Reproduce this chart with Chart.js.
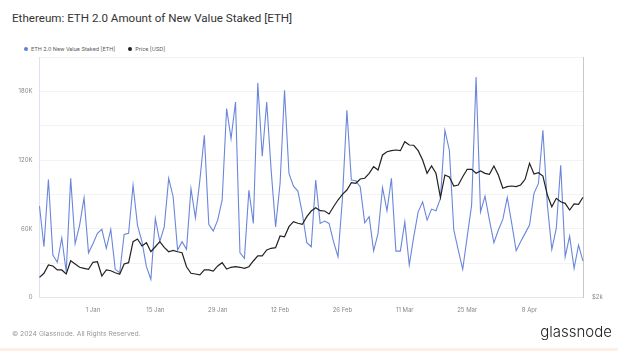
<!DOCTYPE html>
<html>
<head>
<meta charset="utf-8">
<script src="https://cdn.jsdelivr.net/npm/chart.js@4.4.1/dist/chart.umd.min.js"></script>
<style>
  body { margin: 0; width: 618px; height: 351px; background: #fff; font-family: Inter, "Noto Sans", sans-serif; overflow: hidden; position: relative; }
  #chart { position: absolute; left: 0; top: 0; }
  .title { position: absolute; left: 12px; top: 11px; font-family: Roboto, sans-serif; font-size: 11.6px; color: #333; }
  .legend { position: absolute; left: 24px; top: 46px; font-size: 5.4px; color: #555; display: flex; gap: 13px; }
  .legend span { display: inline-flex; align-items: center; }
  .dot { width: 4px; height: 4px; border-radius: 50%; margin-right: 3px; display: inline-block; }
  .footer { position: absolute; left: 12px; top: 329px; font-size: 6.8px; color: #999; }
  .logo { position: absolute; right: 6px; top: 322px; font-size: 15px; font-weight: 300; color: #222; }
  .strip { position: absolute; left: 0; right: 0; bottom: 0; height: 3px; background: #fcefe6; }
</style>
</head>
<body>
<div class="title">Ethereum: ETH 2.0 Amount of New Value Staked [ETH]</div>
<div class="legend">
  <span><i class="dot" style="background:#5f7fd8"></i>ETH 2.0 New Value Staked [ETH]</span>
  <span><i class="dot" style="background:#222"></i>Price [USD]</span>
</div>
<canvas id="chart" width="618" height="351"></canvas>
<div class="footer">© 2024 Glassnode. All Rights Reserved.</div>
<div class="logo">glassnode</div>
<div class="strip"></div>
<script>
// daily points, 20 Dec 2023 .. 20 Apr 2024
const startDay = new Date(2023, 11, 20);
const dayCount = 123;
const monthNames = ['Jan','Feb','Mar','Apr','May','Jun','Jul','Aug','Sep','Oct','Nov','Dec'];
const days = [];
for (let i = 0; i < dayCount; i++) {
  const d = new Date(startDay.getFullYear(), startDay.getMonth(), startDay.getDate() + i);
  days.push(d.getDate() + ' ' + monthNames[d.getMonth()]);
}

const tickLabels = ['1 Jan', '15 Jan', '29 Jan', '12 Feb', '26 Feb', '11 Mar', '25 Mar', '8 Apr'];

// ETH staked per day
const stakedEth = [
  79800, 44300, 103000, 37000, 30700, 52000, 22500, 104000, 47000, 63000, 87000,
  39000, 47000, 56000, 59500, 43000, 59500, 24600, 21600, 55000, 56000,
  98000, 63000, 48700, 26900, 15900, 69000, 48700, 61700, 104000, 88000,
  41400, 48700, 42000, 95000, 69600, 102500, 141700, 64000, 58000, 67600,
  85000, 165000, 138800, 170700, 39000, 34200, 93700, 64700, 187300, 123400,
  170700, 111000, 61700, 99600, 181000, 108300, 97200, 92900, 73400, 47800,
  44300, 102500, 64700, 66700, 64700, 48700, 35600, 86500, 163500, 102500,
  101900, 96600, 65300, 70500, 40800, 56000, 96000, 75700, 104000, 40500,
  40500, 66000, 28300, 53000, 74800, 83500, 67600, 77200, 75700, 86500,
  146000, 128600, 58900, 41400, 24600, 53000, 80700, 192500, 74800, 88500,
  67600, 47800, 58900, 68200, 87400, 64700, 40800, 48700, 56000, 63200,
  90900, 99600, 146000, 80700, 42000, 60300, 115500, 35600, 53600, 25500,
  45800, 31800
];

// ETH price, USD
const priceUsd = [
  2193, 2234, 2320, 2310, 2268, 2268, 2227, 2366, 2331, 2296, 2285,
  2275, 2349, 2355, 2206, 2268, 2260, 2240, 2224, 2331, 2345,
  2581, 2613, 2531, 2569, 2465, 2522, 2581, 2515, 2465, 2481,
  2465, 2454, 2302, 2234, 2227, 2217, 2268, 2268, 2257, 2310,
  2345, 2278, 2296, 2302, 2296, 2285, 2302, 2363, 2418, 2418,
  2485, 2504, 2511, 2649, 2640, 2764, 2828, 2807, 2794, 2893,
  2969, 3014, 2973, 2969, 2929, 3028, 3122, 3204, 3268, 3379,
  3370, 3437, 3448, 3527, 3635, 3581, 3835, 3893, 3911, 3923,
  3911, 4075, 4014, 4009, 3911, 3748, 3527, 3647, 3527, 3158,
  3500, 3468, 3328, 3344, 3473, 3592, 3592, 3527, 3565, 3527,
  3511, 3647, 3500, 3294, 3318, 3328, 3318, 3344, 3432, 3692,
  3516, 3537, 3484, 3194, 3028, 3146, 3098, 3075, 2983, 3066,
  3061, 3161
];

const tickFont = { family: 'Inter', size: 6 };

new Chart(document.getElementById('chart'), {
  type: 'line',
  data: {
    labels: days,
    datasets: [
      {
        label: 'ETH 2.0 New Value Staked [ETH]',
        data: stakedEth,
        yAxisID: 'y',
        borderColor: '#6a86da',
        borderWidth: 1.1,
        pointRadius: 0,
        tension: 0,
        order: 2
      },
      {
        label: 'Price [USD]',
        data: priceUsd,
        yAxisID: 'y1',
        borderColor: '#222',
        borderWidth: 1.2,
        pointRadius: 0,
        tension: 0,
        order: 1
      }
    ]
  },
  options: {
    responsive: false,
    animation: false,
    layout: { padding: { top: 57, bottom: 33.5, left: 0, right: 0 } },
    plugins: { legend: { display: false }, tooltip: { enabled: false } },
    scales: {
      x: {
        offset: false,
        grid: { display: false, drawTicks: false },
        border: { color: '#e6e6e6' },
        ticks: {
          autoSkip: false, maxRotation: 0, padding: 9, color: '#888', font: tickFont,
          callback(v) {
            const l = this.getLabelForValue(v);
            return tickLabels.includes(l) ? l : '';
          }
        },
        afterFit(s) { s.height = 20; }
      },
      y: {
        position: 'left',
        min: 0,
        max: 210000,
        grid: { color: '#f3f3f3', drawTicks: false },
        border: { color: '#dce2ef' },
        ticks: {
          stepSize: 30000, padding: 7, color: '#888', font: tickFont,
          callback(v) {
            if (v % 60000 !== 0) return '';
            return v === 0 ? '0' : (v / 1000) + 'K';
          }
        },
        afterFit(s) { s.width = 39.5; }
      },
      y1: {
        type: 'logarithmic',
        position: 'right',
        min: 2000,
        max: 6000,
        grid: { display: false, drawTicks: false },
        border: { color: '#c9c9c9' },
        afterBuildTicks(s) { s.ticks = [{ value: 2000 }]; },
        ticks: { padding: 9, color: '#888', font: tickFont, callback: () => '$2k' },
        afterFit(s) { s.width = 35; }
      }
    }
  }
});
</script>
</body>
</html>
